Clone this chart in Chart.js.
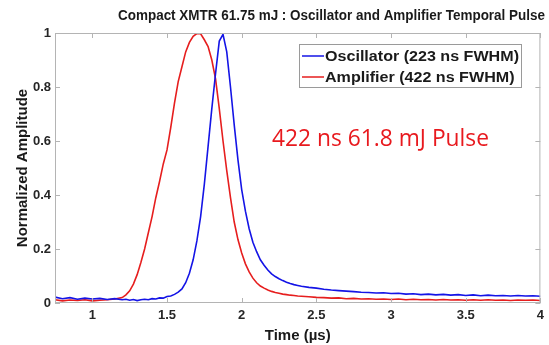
<!DOCTYPE html>
<html>
<head>
<meta charset="utf-8">
<script src="https://cdn.jsdelivr.net/npm/chart.js@4/dist/chart.umd.min.js"></script>
<style>
  html, body { margin: 0; padding: 0; background: #fff; }
  #wrap { width: 549px; height: 345px; }
</style>
</head>
<body>
<div id="wrap"><canvas id="pulseChart" width="549" height="345"></canvas></div>
<script>
// time axis (µs)
const timeUs = [
  0.75, 0.80, 0.85, 0.90, 0.95, 1.00, 1.05, 1.10, 1.15,
  1.200, 1.225, 1.250, 1.275, 1.300, 1.325, 1.350, 1.375, 1.400, 1.425, 1.450, 1.475,
  1.500, 1.525, 1.550, 1.575, 1.600, 1.625, 1.650, 1.675, 1.700, 1.725, 1.750, 1.775,
  1.800, 1.825, 1.850, 1.875, 1.900, 1.925, 1.950, 1.975, 2.000, 2.025, 2.050, 2.075,
  2.100, 2.125, 2.150, 2.175, 2.200, 2.225, 2.250, 2.275, 2.300, 2.325, 2.350, 2.375,
  2.40, 2.45, 2.50, 2.55, 2.60, 2.65, 2.70, 2.75, 2.80, 2.85, 2.90, 2.95, 3.00, 3.05,
  3.10, 3.15, 3.20, 3.25, 3.30, 3.35, 3.40, 3.45, 3.50, 3.55, 3.60, 3.65, 3.70, 3.75,
  3.80, 3.85, 3.90, 3.95, 4.00
];

// oscillator pulse (blue)
const oscillator = [
  0.022, 0.016, 0.020, 0.014, 0.018, 0.015, 0.017, 0.013, 0.016,
  0.012, 0.014, 0.010, 0.013, 0.009, 0.012, 0.014, 0.012, 0.016, 0.015, 0.019, 0.018,
  0.024, 0.026, 0.032, 0.040, 0.052, 0.075, 0.110, 0.160, 0.230, 0.320, 0.440, 0.580,
  0.720, 0.850, 0.970, 0.995, 0.930, 0.800, 0.660, 0.530, 0.420, 0.340, 0.275, 0.225,
  0.190, 0.160, 0.140, 0.122, 0.108, 0.098, 0.090, 0.083, 0.077, 0.072, 0.068, 0.065,
  0.062, 0.058, 0.055, 0.051, 0.048, 0.046, 0.044, 0.042, 0.040, 0.039, 0.037, 0.038, 0.035, 0.036,
  0.033, 0.034, 0.031, 0.033, 0.030, 0.032, 0.029, 0.031, 0.028, 0.030, 0.027, 0.029, 0.027, 0.028,
  0.026, 0.028, 0.026, 0.027, 0.025
];

// amplifier pulse (red)
const amplifier = [
  0.012, 0.008, 0.011, 0.009, 0.012, 0.008, 0.010, 0.012, 0.015,
  0.020, 0.030, 0.045, 0.070, 0.105, 0.150, 0.200, 0.260, 0.320, 0.390, 0.450, 0.515,
  0.567, 0.650, 0.740, 0.820, 0.875, 0.930, 0.965, 0.988, 0.998, 0.997, 0.975, 0.950,
  0.900, 0.830, 0.720, 0.600, 0.490, 0.390, 0.300, 0.235, 0.185, 0.145, 0.115, 0.092,
  0.075, 0.063, 0.055, 0.048, 0.043, 0.039, 0.036, 0.033, 0.031, 0.029, 0.028, 0.026,
  0.025, 0.023, 0.021, 0.020, 0.018, 0.019, 0.016, 0.017, 0.015, 0.016, 0.014, 0.015, 0.013, 0.015,
  0.012, 0.014, 0.012, 0.013, 0.011, 0.013, 0.011, 0.012, 0.010, 0.012, 0.010, 0.012, 0.010, 0.011,
  0.009, 0.011, 0.010, 0.011, 0.009
];

const xTicks = [1, 1.5, 2, 2.5, 3, 3.5, 4];
const yTicks = [0, 0.2, 0.4, 0.6, 0.8, 1];
const seriesNames = ['Oscillator (223 ns FWHM)', 'Amplifier (422 ns FWHM)'];
const chartTitle = 'Compact XMTR 61.75 mJ : Oscillator and Amplifier Temporal Pulse';
const noteText = '422 ns 61.8 mJ Pulse';

const BLUE = '#1414e6';
const RED = '#e61e1e';
const FONT = 'Arial, "Liberation Sans", sans-serif';

function pts(ys) {
  return timeUs.map((t, i) => ({ x: t, y: ys[i] }));
}

// draw text squeezed/stretched to a given width, left edge at x
function fitText(ctx, text, x, y, width) {
  const w = ctx.measureText(text).width;
  ctx.save();
  ctx.translate(x, y);
  ctx.scale(width / w, 1);
  ctx.textAlign = 'left';
  ctx.fillText(text, 0, 0);
  ctx.restore();
}

// frame, inward ticks, title, legend box and note
const decorPlugin = {
  id: 'decor',
  afterDraw(chart) {
    const ctx = chart.ctx;
    const a = chart.chartArea;
    const xs = chart.scales.x, ys = chart.scales.y;
    ctx.save();
    ctx.strokeStyle = '#b4b4b4';
    ctx.lineWidth = 1;
    ctx.strokeRect(a.left + 0.5, a.top + 0.5, a.right - a.left - 1, a.bottom - a.top - 1);
    ctx.beginPath();
    xTicks.forEach(v => {
      const px = Math.round(xs.getPixelForValue(v)) + 0.5;
      ctx.moveTo(px, a.bottom); ctx.lineTo(px, a.bottom - 5);
      ctx.moveTo(px, a.top); ctx.lineTo(px, a.top + 5);
    });
    yTicks.forEach(v => {
      const py = Math.round(ys.getPixelForValue(v)) + 0.5;
      ctx.moveTo(a.left, py); ctx.lineTo(a.left + 5, py);
      ctx.moveTo(a.right, py); ctx.lineTo(a.right - 5, py);
    });
    ctx.stroke();

    // title
    ctx.fillStyle = '#1a1a1a';
    ctx.font = 'bold 14px ' + FONT;
    ctx.textBaseline = 'middle';
    fitText(ctx, chartTitle, 118, 16, 427);

    // legend
    ctx.fillStyle = '#fff';
    ctx.fillRect(299, 44, 222, 43);
    ctx.strokeStyle = '#9a9a9a';
    ctx.strokeRect(299.5, 44.5, 222, 43);
    const colors = [BLUE, RED];
    ctx.font = 'bold 14px ' + FONT;
    const sx = 194 / ctx.measureText(seriesNames[0]).width;
    seriesNames.forEach((name, i) => {
      const y = 56 + i * 21;
      ctx.strokeStyle = colors[i];
      ctx.lineWidth = 1.5;
      ctx.beginPath();
      ctx.moveTo(302, y); ctx.lineTo(324, y);
      ctx.stroke();
      ctx.fillStyle = '#1a1a1a';
      fitText(ctx, name, 325, y + 1, ctx.measureText(name).width * sx);
    });

    // note
    ctx.fillStyle = '#e8191e';
    ctx.font = '24px "Open Sans", ' + FONT;
    fitText(ctx, noteText, 272, 139, 217);
    ctx.restore();
  }
};

const tickFont = { family: FONT, size: 13, weight: 'bold' };
const titleFont = { family: FONT, size: 15, weight: 'bold' };

new Chart(document.getElementById('pulseChart'), {
  type: 'line',
  data: {
    datasets: [
      { label: seriesNames[0], data: pts(oscillator), borderColor: BLUE, borderWidth: 1.6, pointRadius: 0, tension: 0 },
      { label: seriesNames[1], data: pts(amplifier), borderColor: RED, borderWidth: 1.6, pointRadius: 0, tension: 0 }
    ]
  },
  options: {
    responsive: false,
    animation: false,
    layout: { padding: { top: 33, right: 5, left: 0, bottom: 0 } },
    plugins: { legend: { display: false }, tooltip: { enabled: false }, title: { display: false } },
    scales: {
      x: {
        type: 'linear',
        min: 0.75,
        max: 4,
        afterBuildTicks: s => { s.ticks = xTicks.map(v => ({ value: v })); },
        afterFit: s => { s.height = 42; },
        grid: { display: false, drawTicks: false },
        border: { display: false },
        ticks: { color: '#262626', padding: 5, font: tickFont, maxRotation: 0, callback: v => String(v) },
        title: { display: true, text: 'Time (µs)', color: '#1a1a1a', padding: { top: 0, bottom: 0 }, font: titleFont }
      },
      y: {
        min: 0,
        max: 1,
        afterBuildTicks: s => { s.ticks = yTicks.map(v => ({ value: v })); },
        afterFit: s => { s.width = 55; },
        grid: { display: false, drawTicks: false },
        border: { display: false },
        ticks: { color: '#262626', padding: 4, font: tickFont, callback: v => String(v) },
        title: { display: true, text: 'Normalized Amplitude', color: '#1a1a1a', padding: { top: 14, bottom: 0 }, font: titleFont }
      }
    }
  },
  plugins: [decorPlugin]
});
</script>
</body>
</html>
